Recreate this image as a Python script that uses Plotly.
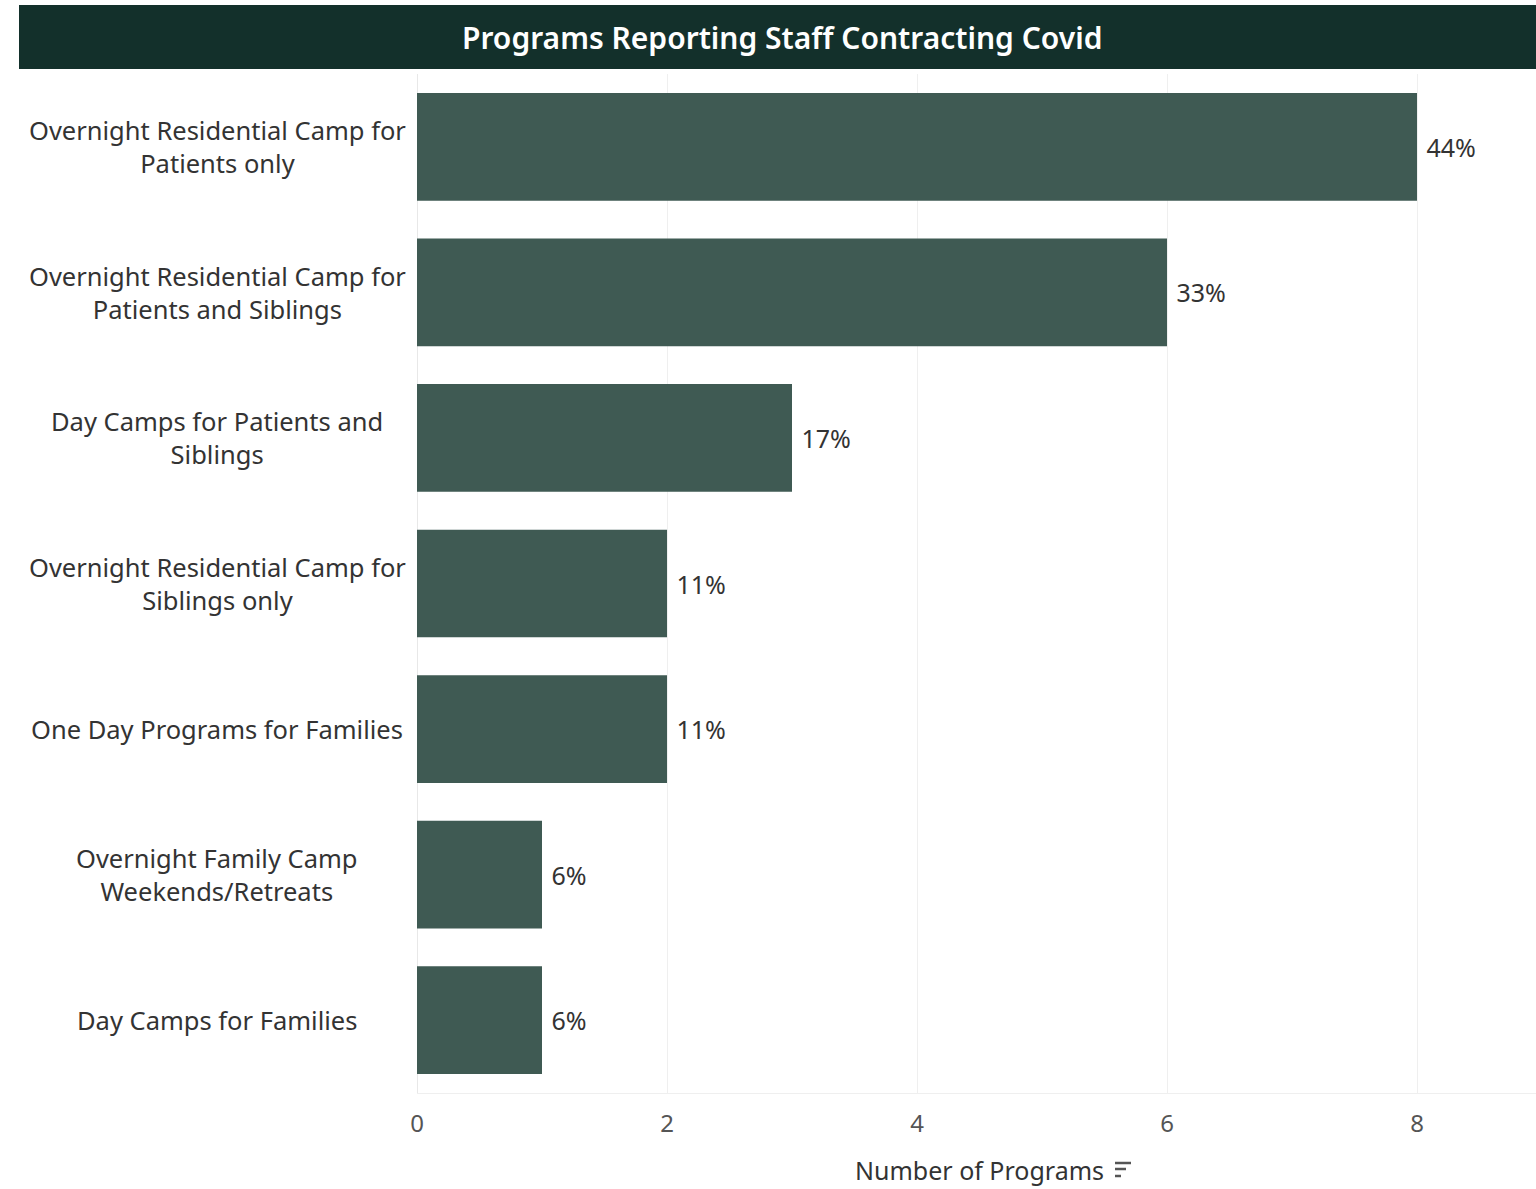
import plotly.graph_objects as go

categories = [
    "Overnight Residential Camp for<br>Patients only",
    "Overnight Residential Camp for<br>Patients and Siblings",
    "Day Camps for Patients and<br>Siblings",
    "Overnight Residential Camp for<br>Siblings only",
    "One Day Programs for Families",
    "Overnight Family Camp<br>Weekends/Retreats",
    "Day Camps for Families",
]
values = [8, 6, 3, 2, 2, 1, 1]
pct_labels = ["44%", "33%", "17%", "11%", "11%", "6%", "6%"]
x_ticks = [0, 2, 4, 6, 8]

W, H = 1536, 1189
L, R, T, B = 417, 0, 74, 96
PW, PH = W - L - R, H - T - B
FONT = "Noto Sans"
FS = 25

def px_x(p):
    return (p - L) / PW

def px_y(p):
    return 1 - (p - T) / PH

fig = go.Figure(go.Bar(
    x=values, y=categories, orientation="h",
    marker=dict(color="#3f5a53", line=dict(width=0)),
    text=[" " + t for t in pct_labels], textposition="outside", cliponaxis=False,
    textfont=dict(family=FONT, size=FS, color="#333333"),
    hoverinfo="skip",
))

annotations = []
for c in categories:
    annotations.append(dict(
        x=px_x(217), xref="paper", y=c, yref="y", text=c, showarrow=False,
        xanchor="center", yanchor="middle", align="center",
        font=dict(family=FONT, size=FS + 0.5, color="#333333"),
    ))
annotations.append(dict(
    x=px_x(782), xref="paper", y=px_y(38), yref="paper",
    text="Programs Reporting Staff Contracting Covid", showarrow=False,
    xanchor="center", yanchor="middle",
    font=dict(family=FONT, size=30, color="#ffffff", weight=600),
))
annotations.append(dict(
    x=px_x(1106), xref="paper", y=px_y(1170), yref="paper",
    text="Number of Programs", showarrow=False,
    xanchor="right", yanchor="middle",
    font=dict(family=FONT, size=FS, color="#333333"),
))

shapes = [
    dict(type="rect", xref="paper", yref="paper",
         x0=px_x(19), x1=px_x(1536), y0=px_y(69), y1=px_y(5),
         fillcolor="#13302b", line=dict(width=0), layer="above"),
]
for x1, yy in [(1131, 1163), (1126, 1169), (1121, 1176)]:
    shapes.append(dict(type="line", xref="paper", yref="paper",
                       x0=px_x(1115), x1=px_x(x1), y0=px_y(yy), y1=px_y(yy),
                       line=dict(color="#555555", width=2.5)))

fig.update_layout(
    width=W, height=H,
    margin=dict(l=L, r=R, t=T, b=B, pad=0),
    paper_bgcolor="#ffffff", plot_bgcolor="#ffffff",
    bargap=0.26,
    showlegend=False,
    xaxis=dict(
        range=[0, PW / 125.0], tickvals=x_ticks, ticktext=[str(v) for v in x_ticks],
        showgrid=True, gridcolor="#efefef", gridwidth=1,
        zeroline=True, zerolinecolor="#e8e8e8", zerolinewidth=1,
        showline=True, linecolor="#efefef", linewidth=1,
        ticks="", ticklen=0, ticklabelstandoff=9,
        tickfont=dict(family=FONT, size=FS - 1, color="#555555"),
        fixedrange=True,
    ),
    yaxis=dict(
        autorange="reversed", showticklabels=False, showgrid=False,
        zeroline=False, ticks="", fixedrange=True,
    ),
    annotations=annotations,
    shapes=shapes,
    font=dict(family=FONT),
)

fig.write_html("out.html", config={"displayModeBar": False},
               post_script="document.body.style.margin='0';document.body.style.overflow='hidden';")
